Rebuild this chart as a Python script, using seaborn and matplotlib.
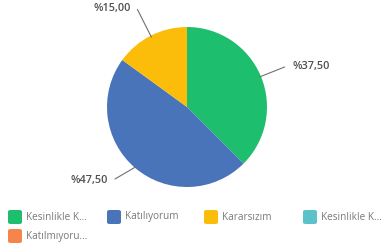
import numpy as np
import matplotlib
matplotlib.use('Agg')
import matplotlib.pyplot as plt
from matplotlib.patches import FancyBboxPatch
import seaborn as sns

categories = ['Kesinlikle Katılıyorum', 'Katılıyorum', 'Kararsızım',
              'Kesinlikle Katılmıyorum', 'Katılmıyorum']
legend_labels = ['Kesinlikle K...', 'Katılıyorum', 'Kararsızım',
                 'Kesinlikle K...', 'Katılmıyoru...']
values = [37.5, 47.5, 15.0, 0.0, 0.0]
colors = ['#1dbf6f', '#4a74b9', '#fbbd0a', '#5cc2c9', '#f5854d']

sns.set_style('white')
plt.rcParams['font.family'] = ['Open Sans', 'DejaVu Sans']

W, H = 383, 246
fig = plt.figure(figsize=(W / 100, H / 100), dpi=100)
fig.patch.set_facecolor('white')

# pie centre ~(187,107) px, radius ~80 px
cx, cy, r = 187, 107, 80
ax = fig.add_axes([(cx - r) / W, 1 - (cy + r) / H, 2 * r / W, 2 * r / H])
wedges, _ = ax.pie(values, colors=colors, startangle=90, counterclock=False,
                   radius=1.0, wedgeprops={'linewidth': 0})
ax.set_xlim(-1, 1)
ax.set_ylim(-1, 1)
ax.set_aspect('equal')
ax.axis('off')

# label text positions (data units) for non-zero slices
label_pos = {0: ((1.22, 0.50), (1.32, 0.50), 'left'),
             1: ((-0.90, -0.90), (-0.99, -0.92), 'right'),
             2: ((-0.62, 1.22), (-0.70, 1.235), 'right')}
for i, w in enumerate(wedges):
    if values[i] <= 0:
        continue
    mid = np.deg2rad((w.theta1 + w.theta2) / 2)
    px, py = 0.98 * np.cos(mid), 0.98 * np.sin(mid)
    end, tpos, ha = label_pos[i]
    ax.plot([px, end[0]], [py, end[1]], color='#707070', lw=0.8,
            clip_on=False, solid_capstyle='round')
    txt = f'%{values[i]:.2f}'.replace('.', ',')
    ax.text(tpos[0], tpos[1], txt, ha=ha, va='center', fontsize=7.8,
            color='#505050', fontweight='semibold', clip_on=False)

# legend, 4 columns
col_x = [8, 107, 204, 303]
for i, (lab, col) in enumerate(zip(legend_labels, colors)):
    c, row = i % 4, i // 4
    x0 = col_x[c]
    y0 = 217 + row * 19
    s = 14
    fig.add_artist(FancyBboxPatch((x0 / W, 1 - (y0 + s / 2) / H), s / W, s / H,
                                  boxstyle='round,pad=0,rounding_size=0.007',
                                  transform=fig.transFigure, facecolor=col,
                                  edgecolor='none'))
    fig.text((x0 + s + 4) / W, 1 - y0 / H, lab, ha='left', va='center',
             fontsize=7.2, color='#7a7a7a')

fig.savefig('out.png', dpi=100)
